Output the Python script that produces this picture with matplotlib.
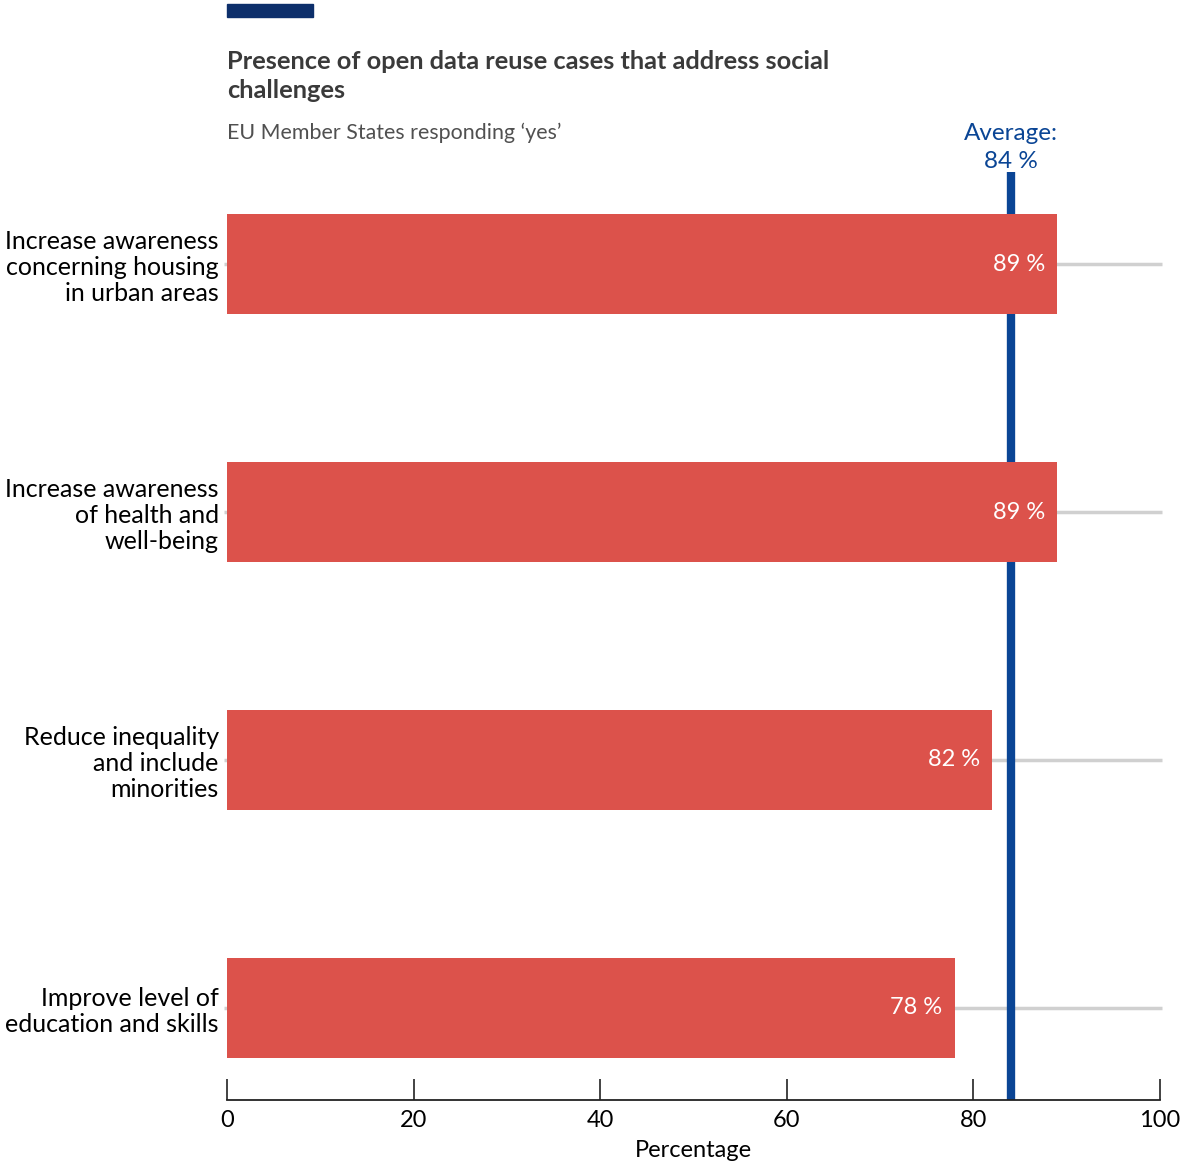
import matplotlib.pyplot as plt
from matplotlib.patches import Rectangle

plt.rcParams['font.family'] = ['Lato', 'DejaVu Sans']

# ── DATA ─────────────────────────────────────────────────────
categories = [
    "Increase awareness\nconcerning housing\nin urban areas",
    "Increase awareness\nof health and\nwell-being",
    "Reduce inequality\nand include\nminorities",
    "Improve level of\neducation and skills",
]
values = [89, 89, 82, 78]
average = 84
xticks = [0, 20, 40, 60, 80, 100]

BAR_RED = "#dc524b"
AVG_BLUE = "#0a4595"
NAVY = "#0d2f6b"

fig = plt.figure(figsize=(11.82, 11.62), dpi=100)
ax = fig.add_axes([227 / 1182, 62 / 1162, 933 / 1182, 928 / 1162])

ypos = list(range(len(categories)))

# light grey guide lines behind each bar
for y in ypos:
    ax.plot([-0.3, 100.2], [y, y], color="#d0d0d0", lw=2.5, zorder=1,
            solid_capstyle="butt", clip_on=False)

# average marker sits behind the bars
ax.plot([average, average], [-0.371, 3.371], color=AVG_BLUE, lw=6,
        zorder=1.5, solid_capstyle="butt", clip_on=False)
ax.text(average, -0.372, f"Average:\n{average} %", color=AVG_BLUE,
        ha="center", va="bottom", fontsize=17.5, linespacing=1.4)

ax.barh(ypos, values, height=0.4, color=BAR_RED, zorder=2)

for y, v in zip(ypos, values):
    ax.text(v - 1.3, y, f"{v} %", color="white", ha="right", va="center",
            fontsize=17, zorder=4)

ax.set_xlim(0, 100)
ax.set_ylim(3.371, -0.371)
ax.set_yticks(ypos)
ax.set_yticklabels(categories, fontsize=18, linespacing=1.15)
ax.tick_params(axis="y", length=0, pad=6)
ax.set_xticks(xticks)
ax.tick_params(axis="x", direction="in", length=15, width=1.2,
               labelsize=17, pad=7, color="#222222")
ax.set_xlabel("Percentage", fontsize=17, labelpad=7)

for side in ["top", "right", "left"]:
    ax.spines[side].set_visible(False)
ax.spines["bottom"].set_linewidth(1.3)
ax.spines["bottom"].set_color("#222222")

# header
fig.patches.append(Rectangle((227 / 1182, 1 - 17 / 1162), 86 / 1182, 13 / 1162,
                             transform=fig.transFigure, color=NAVY))
fig.text(227 / 1182, 1 - 76 / 1162,
         "Presence of open data reuse cases that address social\nchallenges",
         ha="left", va="center", fontsize=18.3, fontweight="bold", color="#3a3a3a",
         linespacing=1.3)
fig.text(227 / 1182, 1 - 133 / 1162, "EU Member States responding \u2018yes\u2019",
         ha="left", va="center", fontsize=15.4, color="#505050")

fig.savefig("out.png", dpi=100)
